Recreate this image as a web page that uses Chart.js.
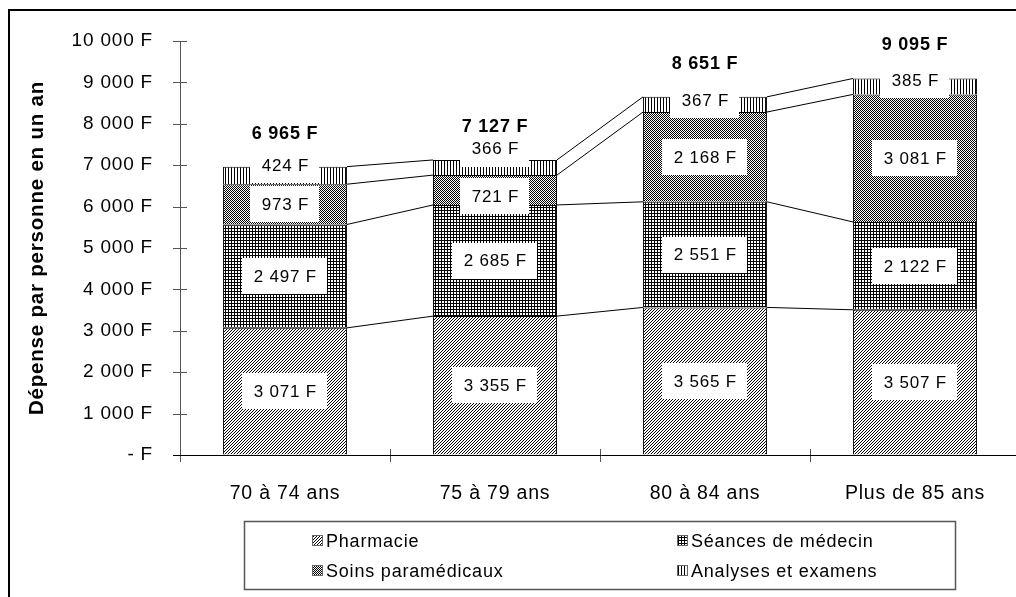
<!DOCTYPE html>
<html>
<head>
<meta charset="utf-8">
<script src="https://cdn.jsdelivr.net/npm/chart.js@4"></script>
<style>
  html, body { margin: 0; padding: 0; background: #fff; overflow: hidden; }
  #wrap { position: absolute; left: 0; top: 0; width: 1030px; height: 597px; }
</style>
</head>
<body>
<div id="wrap"><canvas id="myChart" width="1030" height="597"></canvas></div>
<script>
/** Chart data **/
const categories = ["70 à 74 ans", "75 à 79 ans", "80 à 84 ans", "Plus de 85 ans"];
const seriesNames = ["Pharmacie", "Séances de médecin", "Soins paramédicaux", "Analyses et examens"];
const pharmacie = [3071, 3355, 3565, 3507];
const seances = [2497, 2685, 2551, 2122];
const soins = [973, 721, 2168, 3081];
const analyses = [424, 366, 367, 385];
const yMin = 0, yMax = 10000, yStep = 1000;

//  Small vertical nudges (px) for the value boxes, the way they sit in the picture
const labelNudge = [
  [0, 0, 0, 0],
  [0, 0, 0, 0],
  [0, 6, 0, 0],
  [-10, -19, -4, -6],
];

const FONT = "'Liberation Sans', Arial, sans-serif";
const SPACING = "0.8px";

/** Formatting: "3 071 F" **/
function fmt(v) {
  if (v === 0) return "-\u00a0F";
  return String(v).replace(/\B(?=(\d{3})+(?!\d))/g, " ") + " F";
}

/** Fill patterns, built pixel by pixel **/
function makePattern(size, test) {
  const c = document.createElement("canvas");
  c.width = c.height = size;
  const g = c.getContext("2d");
  g.fillStyle = "#fff";
  g.fillRect(0, 0, size, size);
  g.fillStyle = "#000";
  for (let y = 0; y < size; y++) {
    for (let x = 0; x < size; x++) {
      if (test(x, y)) g.fillRect(x, y, 1, 1);
    }
  }
  return g.createPattern(c, "repeat");
}

const ctx = document.getElementById("myChart");
const patterns = [
  makePattern(3, (x, y) => (x + y) % 3 === 0),
  makePattern(3, (x, y) => x % 3 === 0 || y % 3 === 0),
  makePattern(2, (x, y) => (x + y) % 2 === 0),
  makePattern(3, (x, y) => x % 3 === 0),
];
const values = [pharmacie, seances, soins, analyses];

/** Letter spacing, so the text runs as wide as in the picture **/
const spacingPlugin = {
  id: "spacing",
  beforeLayout(chart) { chart.ctx.letterSpacing = SPACING; },
  beforeDraw(chart) { chart.ctx.letterSpacing = SPACING; },
};

/** Outer frame, tick marks crossing the axes **/
const framePlugin = {
  id: "frame",
  beforeDraw(chart) {
    const c = chart.ctx;
    c.save();
    c.fillStyle = "#fff";
    c.fillRect(0, 0, chart.width, chart.height);
    c.strokeStyle = "#000";
    c.lineWidth = 2;
    c.strokeRect(9, 10, 1100, 700);
    c.restore();
  },
  afterDraw(chart) {
    const c = chart.ctx;
    const xs = chart.scales.x, ys = chart.scales.y;
    c.save();
    c.strokeStyle = "#555";
    c.lineWidth = 1;
    c.beginPath();
    ys.ticks.forEach((t, i) => {
      const y = Math.round(ys.getPixelForTick(i)) + 0.5;
      c.moveTo(xs.left - 7, y);
      c.lineTo(xs.left + 7, y);
    });
    for (let i = 0; i <= categories.length; i++) {
      const x = Math.round(xs.left + (xs.width / categories.length) * i) + 0.5;
      c.moveTo(x, ys.bottom - 6);
      c.lineTo(x, ys.bottom + 7);
    }
    c.stroke();
    c.strokeStyle = "#000";
    c.beginPath();
    c.moveTo(xs.left - 7, Math.round(ys.bottom) + 0.5);
    c.lineTo(chart.width, Math.round(ys.bottom) + 0.5);
    c.stroke();
    c.restore();
  },
};

/** Series lines, value boxes and totals **/
const labelPlugin = {
  id: "labels",
  afterDatasetsDraw(chart) {
    const c = chart.ctx;
    c.save();
    //  Lines joining the top of each series from one bar to the next
    c.strokeStyle = "#000";
    c.lineWidth = 1;
    chart.data.datasets.forEach((ds, i) => {
      const bars = chart.getDatasetMeta(i).data;
      c.beginPath();
      for (let j = 0; j < bars.length - 1; j++) {
        const a = bars[j], b = bars[j + 1];
        c.moveTo(a.x + a.width / 2, a.y);
        c.lineTo(b.x - b.width / 2, b.y);
      }
      c.stroke();
    });

    //  White boxes with the values
    c.font = "17px " + FONT;
    c.textAlign = "center";
    c.textBaseline = "middle";
    for (let i = chart.data.datasets.length - 1; i >= 0; i--) {
      const bars = chart.getDatasetMeta(i).data;
      bars.forEach((el, j) => {
        const txt = fmt(chart.data.datasets[i].data[j]);
        const w = c.measureText(txt).width + 22;
        const h = 36;
        const cy = (el.y + el.base) / 2 + labelNudge[i][j];
        c.fillStyle = "#fff";
        c.fillRect(Math.round(el.x - w / 2), Math.round(cy - h / 2), Math.round(w), h);
        c.fillStyle = "#000";
        c.fillText(txt, el.x + 0.4, cy + 1);
      });
    }

    //  Totals above the bars
    const top = chart.getDatasetMeta(chart.data.datasets.length - 1).data;
    c.font = "bold 18px " + FONT;
    categories.forEach((cat, j) => {
      const total = values.reduce((s, arr) => s + arr[j], 0);
      c.fillText(fmt(total), top[j].x, top[j].y - 33);
    });
    c.restore();
  },
  afterDraw(chart) {
    //  Legend in a box, two columns
    const c = chart.ctx;
    c.save();
    c.strokeStyle = "#555";
    c.lineWidth = 1.5;
    c.strokeRect(244.5, 521.5, 711, 68);
    c.font = "18px " + FONT;
    c.textAlign = "left";
    c.textBaseline = "middle";
    const spots = [[312, 541], [677, 541], [312, 571], [677, 571]];
    seriesNames.forEach((name, i) => {
      const [x, y] = spots[i];
      c.fillStyle = patterns[i];
      c.fillRect(x, y - 6, 11, 11);
      c.strokeStyle = "#666";
      c.lineWidth = 1;
      c.strokeRect(x + 0.5, y - 5.5, 10, 10);
      c.fillStyle = "#000";
      c.fillText(name, x + 14, y + 1);
    });
    c.restore();
  },
};

let myChart = new Chart(ctx, {
  type: "bar",
  data: {
    labels: categories,
    datasets: values.map((arr, i) => ({
      label: seriesNames[i],
      data: arr,
      backgroundColor: patterns[i],
      borderColor: "#000",
      borderWidth: 1,
      barPercentage: 0.59,
      categoryPercentage: 1,
    })),
  },
  options: {
    responsive: false,
    devicePixelRatio: 1,
    animation: false,
    layout: { padding: { left: 0, right: 10, top: 41, bottom: 0 } },
    plugins: {
      legend: { display: false },
      tooltip: { enabled: false },
    },
    scales: {
      x: {
        stacked: true,
        afterFit(scale) { scale.height = 142; },
        grid: { display: false, drawTicks: false },
        border: { display: false },
        ticks: {
          color: "#000",
          padding: 27,
          font: { family: FONT, size: 19.5 },
        },
      },
      y: {
        stacked: true,
        min: yMin,
        max: yMax,
        afterFit(scale) { scale.width = 180; },
        grid: { drawOnChartArea: false, drawTicks: false },
        border: { display: true, color: "#555", width: 1 },
        ticks: {
          stepSize: yStep,
          color: "#000",
          padding: 27,
          font: { family: FONT, size: 19 },
          callback: (v) => fmt(v),
        },
        title: {
          display: true,
          text: "Dépense par personne en un an",
          color: "#000",
          font: { family: FONT, size: 20.5, weight: "bold" },
          padding: { top: 25, bottom: 0 },
        },
      },
    },
  },
  plugins: [spacingPlugin, framePlugin, labelPlugin],
});
</script>
</body>
</html>
